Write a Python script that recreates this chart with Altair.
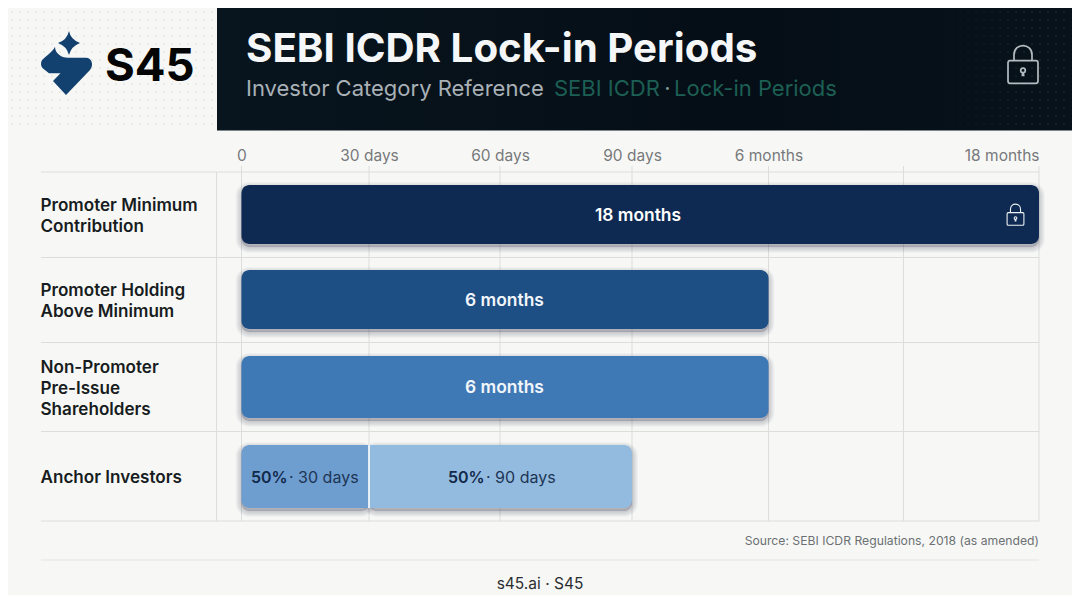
import json
import re
import altair as alt
import pandas as pd

# ---- chart values ----
categories = [["Promoter Minimum", "Contribution"], ["Promoter Holding", "Above Minimum"],
              ["Non-Promoter", "Pre-Issue", "Shareholders"], ["Anchor Investors"]]
rows = [0, 1, 2, 3]
starts = [0, 0, 0, 0, 30]
ends = [540, 180, 180, 30, 90]
seg_rows = [0, 1, 2, 3, 3]
seg_colors = ["#0e2a52", "#1d4e84", "#3f79b5", "#6e9dd0", "#93bbdf"]
seg_heights = [59, 59, 62, 63, 63]
tick_days = [0, 30, 60, 90, 180, 360, 540]
tick_labels = ["0", "30 days", "60 days", "90 days", "6 months", "", "18 months"]

W, H = 1064, 587
BG = "#f7f8f6"
GRID = "#dcdedc"
FONT = "Inter"


def px(x):
    return x - 8


def py(y):
    return y - 8


x_scale = alt.Scale(domain=tick_days, padding=0, nice=False, zero=False,
                    range=[px(v) for v in (241.5, 369, 500, 632, 768.5, 903.5, 1039)])
y_scale = alt.Scale(domain=rows, padding=0, nice=False, zero=False,
                    range=[py(v) for v in (214.5, 299.5, 387, 476.5)])

one = pd.DataFrame({"a": [1]})
segs = pd.DataFrame({"row": seg_rows, "start": starts, "end": ends, "color": seg_colors, "h": seg_heights})


def unit_path(path, cx, cy, half):
    """Rewrite a path drawn in reference pixels into Vega's -1..1 symbol box."""
    def repl(m):
        return f"{(float(m.group(1)) - cx) / half:.4f},{(float(m.group(2)) - cy) / half:.4f}"
    return re.sub(r"(-?[\d.]+),(-?[\d.]+)", repl, path)


def icon(path, cx, cy, half, x, y, scale=1.0, **kw):
    shape = unit_path(path, cx, cy, half)
    return alt.Chart(one).mark_point(shape=shape, size=(2 * half * scale) ** 2, opacity=1, **kw).encode(
        x=alt.value(px(x)), y=alt.value(py(y)))


def rule(x0, x1, y0, y1, color=GRID, width=1):
    return alt.Chart(one).mark_rule(color=color, strokeWidth=width).encode(
        x=alt.value(px(x0)), x2=alt.value(px(x1)), y=alt.value(py(y0)), y2=alt.value(py(y1)))


def text(s, x, y, size, color, weight=400, align="left", **kw):
    return alt.Chart(pd.DataFrame({"t": [s]})).mark_text(
        font=FONT, fontSize=size, color=color, fontWeight=weight, align=align, baseline="alphabetic", **kw
    ).encode(text="t:N", x=alt.value(px(x)), y=alt.value(py(y)))


# ---- header ----
header = alt.Chart(one).mark_rect(
    color=alt.Gradient(gradient="linear", x1=0, x2=1, y1=0, y2=0,
                       stops=[alt.GradientStop(color="#08151e", offset=0),
                              alt.GradientStop(color="#050e16", offset=0.6),
                              alt.GradientStop(color="#07121a", offset=1)])
).encode(x=alt.value(px(217)), x2=alt.value(W), y=alt.value(0), y2=alt.value(py(130.5)))

left_dots = pd.DataFrame([{"x": px(12 + 8 * i), "y": py(12 + 8 * j)} for i in range(26) for j in range(15)])
right_dots = pd.DataFrame([{"x": px(936 + 8 * i), "y": py(12 + 8 * j), "o": min(0.16, 0.012 * (i + 1))}
                           for i in range(17) for j in range(15)])
dots_l = alt.Chart(left_dots).mark_circle(size=2, color="#c9cdca", opacity=0.8).encode(
    x=alt.X("x:Q", scale=None), y=alt.Y("y:Q", scale=None))
dots_r = alt.Chart(right_dots).mark_circle(size=2, color="#ffffff").encode(
    x=alt.X("x:Q", scale=None), y=alt.Y("y:Q", scale=None), opacity=alt.Opacity("o:Q", scale=None))

BLOB = ("M55,46.7 C53,52 43,58 41.5,61 Q40,65.5 43,68.5 L49,73.2 L60.5,73.2 L53,81 L66,95 L90,70 "
        "Q93,66 91.5,61.5 Q90,57.7 86,57.7 L68,57.7 C61,57.7 55,53 55,46.7 Z")
STAR = "M69,31 Q70.5,39.5 80,43 Q71.5,46 69,55 Q66.5,46 58,43 Q67,40 69,31 Z"
LOCK = ("M1010,60.7 L1036,60.7 Q1038,60.7 1038,63 L1038,81 Q1038,83.3 1036,83.3 L1010,83.3 "
        "Q1008,83.3 1008,81 L1008,63 Q1008,60.7 1010,60.7 Z "
        "M1014,60.7 L1014,55 C1014,42.5 1032,42.5 1032,55 L1032,60.7 "
        "M1023,68.2 C1026,68.2 1026,72.4 1023.6,72.6 L1023.6,75.5 L1022.4,75.5 L1022.4,72.6 "
        "C1020,72.4 1020,68.2 1023,68.2 Z")

blob = icon(BLOB, 66, 70, 26, 66, 70, filled=True, color="#12406f", strokeWidth=0)
star = icon(STAR, 69, 43, 13, 69, 43, filled=True, color="#12406f", strokeWidth=0)
lock_big = icon(LOCK, 1023, 65, 20, 1023, 65, filled=False, color="#b4bcc1", strokeWidth=1.7)
lock_small = icon(LOCK, 1023, 65, 20, 1015.5, 215, scale=0.56, filled=False, color="#eef1f4", strokeWidth=1.1)

# ---- table rules ----
grid = alt.Chart(pd.DataFrame({"d": tick_days})).mark_rule(color=GRID, strokeWidth=1).encode(
    x=alt.X("d:Q", scale=x_scale, title=None,
            axis=alt.Axis(values=tick_days, orient="top", offset=-159, domain=False, ticks=False, grid=False,
                          labelFont=FONT, labelFontSize=15.5, labelColor="#77797b", labelPadding=4,
                          labelFlush=False, labelOverlap=False,
                          labelAlign=alt.ExprRef("datum.value == 540 ? 'right' : 'center'"),
                          labelExpr=f"{json.dumps(tick_labels)}[indexof({json.dumps(tick_days)}, datum.value)]")),
    y=alt.value(py(166)), y2=alt.value(py(521)))

hlines = [rule(41, 1039, v, v) for v in (172, 257.5, 342.5, 431.5, 521)]
hlines.append(rule(41, 1039, 560, 560, color="#e2e4e2"))
vline = rule(216.5, 216.5, 172, 521)

# ---- bars ----
y_enc = alt.Y("row:Q", scale=y_scale, title=None,
              axis=alt.Axis(values=rows, orient="left", offset=-33, domain=False, ticks=False, grid=False,
                            labelFont=FONT, labelFontSize=17.1, labelFontWeight=600, labelColor="#171c21",
                            labelAlign="left", labelBaseline="middle", labelPadding=1, labelLineHeight=21,
                            labelOffset=alt.ExprRef("datum.value == 2 ? -20 : datum.value == 3 ? 0.5 : -9"),
                            labelOverlap=False, labelFlush=False, labelBound=False,
                            labelExpr=f"{json.dumps(categories)}[datum.value]"))
x_enc = alt.X("start:Q", scale=x_scale, title=None)


def bars(df, **kw):
    return alt.Chart(df).mark_bar(**kw).encode(
        x=x_enc, x2="end:Q", y=alt.Y("row:Q", scale=y_scale, title=None),
        size=alt.Size("h:Q", scale=None), color=alt.Color("color:N", scale=None))


shadows = [alt.Chart(segs).mark_bar(
    cornerRadius=8, fill="#20262c", fillOpacity=0.035, stroke="#20262c", strokeOpacity=0.035,
    strokeWidth=w, yOffset=3).encode(
        x=x_enc, x2="end:Q", y=alt.Y("row:Q", scale=y_scale, title=None), size=alt.Size("h:Q", scale=None))
    for w in (2, 4, 6, 8, 10, 12)]

solid = bars(segs.iloc[:3], cornerRadius=8)
anchor_a = bars(segs.iloc[[3]], cornerRadiusTopLeft=8, cornerRadiusBottomLeft=8)
anchor_b = bars(segs.iloc[[4]], cornerRadiusTopRight=8, cornerRadiusBottomRight=8)
divider = alt.Chart(pd.DataFrame({"d": [30]})).mark_rule(color="#ffffff", strokeWidth=1.6).encode(
    x=alt.X("d:Q", scale=x_scale, title=None), y=alt.value(py(445)), y2=alt.value(py(508)))
axis_y_holder = alt.Chart(pd.DataFrame({"row": rows})).mark_point(opacity=0).encode(y=y_enc, x=alt.value(0))

# ---- texts ----
texts = [
    text("S45", 105, 81, 45.5, "#050505", 700),
    text("SEBI ICDR Lock-in Periods", 246, 62, 40.3, "#f4f6f7", 700),
    text("Investor Category Reference", 246, 96, 22, "#a9b1b6", 400),
    text("SEBI ICDR", 554, 96, 22, "#1c5f54", 400),
    text("·", 667.5, 96, 22, "#7f9a95", 400, "center"),
    text("Lock-in Periods", 674, 96, 22, "#1c5f54", 400),
    text("18 months", 638, 221, 17.4, "#ffffff", 600, "center"),
    text("6 months", 504.5, 306, 17.4, "#f2f6fa", 600, "center"),
    text("6 months", 504.5, 393, 17.4, "#f2f6fa", 600, "center"),
    text("50%", 251, 483, 16, "#12294a", 600),
    text("· 30 days", 289, 483, 16, "#1d3554", 400),
    text("50%", 448, 483, 16, "#12294a", 600),
    text("· 90 days", 486, 483, 16, "#1d3554", 400),
    text("Source: SEBI ICDR Regulations, 2018 (as amended)", 1039, 545, 12.2, "#6c7073", 400, "right"),
    text("s45.ai · S45", 540, 589, 15.5, "#2a2d30", 400, "center"),
]

chart = alt.layer(
    dots_l, header, dots_r, *hlines, vline, grid, *shadows, solid, anchor_a, anchor_b, divider,
    axis_y_holder, blob, star, lock_big, lock_small, *texts
).properties(
    width=W, height=H, background=BG, padding=0, autosize=alt.AutoSizeParams(type="none")
).configure_view(stroke=None)

chart.save("out.html", embed_options={"renderer": "svg", "actions": False})
